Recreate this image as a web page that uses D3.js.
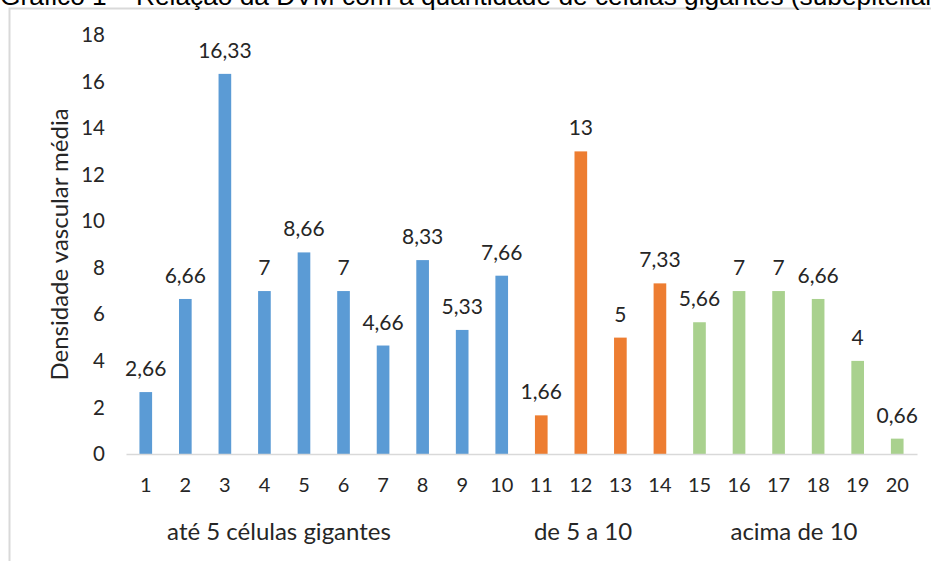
<!DOCTYPE html>
<html>
<head>
<meta charset="utf-8">
<script src="https://cdn.jsdelivr.net/npm/d3@7"></script>
<style>
  html, body { margin: 0; padding: 0; background: #fff; overflow: hidden; }
  svg { display: block; }
</style>
</head>
<body>
<svg id="chart" width="931" height="561"></svg>
<script>
// ---- data ----
const categories = ["1","2","3","4","5","6","7","8","9","10","11","12","13","14","15","16","17","18","19","20"];
const values = [2.66, 6.66, 16.33, 7, 8.66, 7, 4.66, 8.33, 5.33, 7.66, 1.66, 13, 5, 7.33, 5.66, 7, 7, 6.66, 4, 0.66];
const groupOfBar = ["a","a","a","a","a","a","a","a","a","a","b","b","b","b","c","c","c","c","c","c"];
const groupNames = ["até 5 células gigantes", "de 5 a 10", "acima de 10"];
const groupKeys = ["a","b","c"];
const groupColors = ["#5b9bd5", "#ed7d31", "#a9d18e"];
const yTicks = [0, 2, 4, 6, 8, 10, 12, 14, 16, 18];
const yTitle = "Densidade vascular média";
const title = "Gráfico 1 – Relação da DVM com a quantidade de células gigantes (subepitelial)";

const fmt = v => String(v).replace(".", ",");

const svg = d3.select("#chart");
const font = "Lato, 'Open Sans', sans-serif";
const textColor = "#262626";

// frame
svg.append("rect").attr("x", 9.5).attr("y", 8.5).attr("width", 960).attr("height", 600)
  .attr("fill", "none").attr("stroke", "#d9d9d9").attr("stroke-width", 2);

// title (cut off at top in reference)
svg.append("text").attr("x", 0).attr("y", 5).text(title)
  .attr("font-family", "'Liberation Sans', Arial, sans-serif").attr("font-size", 26.3).attr("fill", "#000");

const x = d3.scaleBand().domain(categories).range([126, 917]).paddingInner(0.68).paddingOuter(0.34);
const y = d3.scaleLinear().domain([0, 18]).range([454, 35]);
const color = d3.scaleOrdinal().domain(groupKeys).range(groupColors);

// y axis (labels only)
const yAxis = d3.axisLeft(y).tickValues(yTicks).tickSize(0).tickPadding(0).tickFormat(d => d);
const gy = svg.append("g").attr("transform", "translate(105,0)").call(yAxis);
gy.select(".domain").remove();
gy.selectAll("text").attr("font-family", font).attr("font-size", 20.5).attr("fill", textColor);

// bars
svg.append("g").selectAll("rect").data(values).join("rect")
  .attr("x", (d, i) => x(categories[i]))
  .attr("y", d => y(d))
  .attr("width", x.bandwidth())
  .attr("height", d => y(0) - y(d))
  .attr("fill", (d, i) => color(groupOfBar[i]));

// x axis
const xAxis = d3.axisBottom(x).tickSize(0).tickPadding(0);
const gx = svg.append("g").attr("transform", `translate(0,${y(0)})`).call(xAxis);
gx.select(".domain").attr("stroke", "#d9d9d9").attr("stroke-width", 1.5);
gx.selectAll("text").attr("font-family", font).attr("font-size", 20).attr("fill", textColor)
  .attr("dy", null).attr("y", 38);

// data labels
svg.append("g").selectAll("text").data(values).join("text")
  .attr("x", (d, i) => x(categories[i]) + x.bandwidth() / 2)
  .attr("y", d => y(d) - 16)
  .attr("text-anchor", "middle")
  .attr("font-family", font).attr("font-size", 21).attr("fill", textColor)
  .text(d => fmt(d));

// group labels
const groupX = [279, 583, 794];
svg.append("g").selectAll("text").data(groupNames).join("text")
  .attr("x", (d, i) => groupX[i]).attr("y", 540)
  .attr("text-anchor", "middle")
  .attr("font-family", font).attr("font-size", 24).attr("fill", textColor)
  .text(d => d);

// y title
svg.append("text")
  .attr("transform", `translate(68,${(y(0) + y(18)) / 2}) rotate(-90)`)
  .attr("text-anchor", "middle")
  .attr("font-family", font).attr("font-size", 24).attr("fill", textColor)
  .text(yTitle);
</script>
</body>
</html>
